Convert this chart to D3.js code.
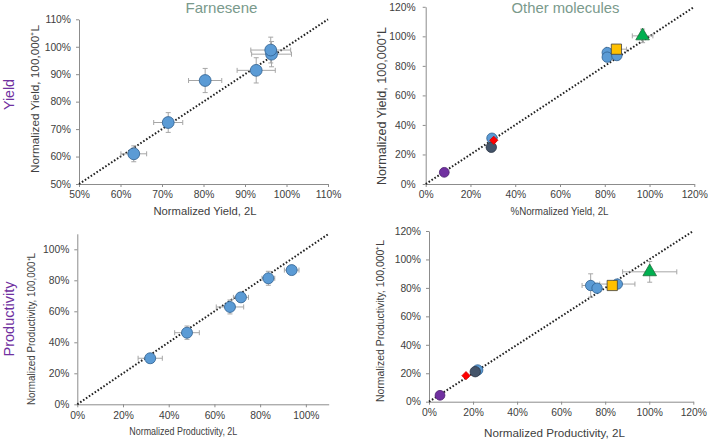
<!DOCTYPE html>
<html><head><meta charset="utf-8">
<script src="https://cdn.jsdelivr.net/npm/d3@7"></script>
<style>
body{margin:0;background:#fff;}
svg{display:block;font-family:"Liberation Sans",Arial,sans-serif;}
.axis path,.axis line{stroke:#8c8c8c;stroke-width:1;}
.axis text{fill:#404040;font-size:10.3px;font-family:"Liberation Sans",Arial,sans-serif;}
</style></head>
<body>
<svg id="c" width="708" height="442"></svg>
<script>
// ---------- Data ----------
const panelTitles = ["Farnesene", "Other molecules"];
const rowTitles = ["Yield", "Productivity"];

// Farnesene – yield
const farYield2L      = [63.2, 71.5, 80.4, 92.7, 96.4, 96.2];
const farYield100k    = [61.0, 72.4, 87.7, 91.4, 97.3, 98.8];
const farYield2LErr   = [3.1, 3.5, 4.0, 4.6, 4.8, 4.8];
const farYield100kErr = [2.9, 3.6, 4.4, 4.6, 4.6, 4.7];

// Farnesene – productivity
const farProd2L      = [31.9, 48.0, 66.8, 71.6, 83.6, 93.8];
const farProd100k    = [29.7, 46.2, 62.8, 69.0, 81.3, 86.6];
const farProd2LErr   = [5.3, 5.4, 6.0, 3.3, 2.8, 3.2];
const farProd100kErr = [2.0, 4.3, 4.5, 3.0, 4.5, 2.0];

// Other molecules (one entry per point)
const otherMolecule = ["Molecule 1","Molecule 1","Molecule 1","Molecule 1","Molecule 2","Molecule 3","Molecule 4","Molecule 5","Molecule 6"];
const otherYield2L      = [81.1, 81.1, 85.4, 29.6, 29.3, 8.3, 30.4, 85.2, 96.9];
const otherYield100k    = [89.0, 85.9, 87.0, 31.0, 24.9, 7.9, 29.6, 91.3, 100.3];
const otherYield2LErr   = [0, 0, 0, 0, 0, 0, 0, 4.5, 4.6];
const otherYield100kErr = [0, 0, 0, 0, 0, 0, 0, 0, 4.6];
const otherProd2L      = [73.4, 76.3, 85.5, 22.1, 21.0, 5.0, 16.8, 83.2, 100.2];
const otherProd100k    = [81.7, 79.8, 82.7, 22.3, 21.1, 4.5, 18.3, 81.7, 91.3];
const otherProd2LErr   = [3.9, 0, 8.0, 0, 0, 0, 0, 0, 12.3];
const otherProd100kErr = [8.2, 0, 0, 0, 0, 0, 0, 0, 7.3];

// Tick values
const farYieldTicks = [50, 60, 70, 80, 90, 100, 110];
const farProdTicks  = [0, 20, 40, 60, 80, 100];
const otherTicks    = [0, 20, 40, 60, 80, 100, 120];

// Axis titles
const xTitles = ["Normalized Yield, 2L", "%Normalized Yield, 2L", "Normalized  Productivity, 2L", "Normalized  Productivity, 2L"];
const yTitles = ["Normalized Yield, 100,000\u207AL", "Normalized Yield, 100,000\u207AL", "Normalized Productivity, 100,000\u207AL", "Normalized  Productivity, 100,000\u207AL"];

// ---------- Styles ----------
const diamond = {draw(ctx, size) { const r = Math.sqrt(size) / 2; ctx.moveTo(0, -r * 1.3); ctx.lineTo(r * 1.3, 0); ctx.lineTo(0, r * 1.3); ctx.lineTo(-r * 1.3, 0); ctx.closePath(); }};
const molStyle = {
  "Molecule 1": {shape: d3.symbolCircle,   fill: "#5B9BD5", stroke: "#2F5F8F", size: 85},
  "Molecule 2": {shape: d3.symbolCircle,   fill: "#44546A", stroke: "#2A3442", size: 85},
  "Molecule 3": {shape: d3.symbolCircle,   fill: "#7030A0", stroke: "#4B1F6E", size: 75},
  "Molecule 4": {shape: diamond,           fill: "#FF0000", stroke: "#D00000", size: 40},
  "Molecule 5": {shape: d3.symbolSquare,   fill: "#FFC000", stroke: "#404040", size: 105},
  "Molecule 6": {shape: d3.symbolTriangle, fill: "#00B050", stroke: "#1F6B3A", size: 80}
};

const svg = d3.select("#c");
const fmt = d => d + "%";

function panel(cfg) {
  const x = d3.scaleLinear().domain(cfg.xd).range(cfg.xr);
  const y = d3.scaleLinear().domain(cfg.yd).range(cfg.yr);
  const g = svg.append("g");

  g.append("g").attr("class", "axis").attr("transform", `translate(0,${cfg.yr[0]})`)
    .call(d3.axisBottom(x).tickValues(cfg.ticks).tickFormat(fmt).tickSize(3).tickSizeOuter(0).tickPadding(4));
  g.append("g").attr("class", "axis").attr("transform", `translate(${cfg.xr[0]},0)`)
    .call(d3.axisLeft(y).tickValues(cfg.yticks || cfg.ticks).tickFormat(fmt).tickSize(3).tickSizeOuter(0).tickPadding(cfg.ypad));

  // identity line
  const lo = Math.max(cfg.xd[0], cfg.yd[0]), hi = Math.min(cfg.xd[1], cfg.yd[1]);
  g.append("line").attr("x1", x(lo)).attr("y1", y(lo)).attr("x2", x(hi)).attr("y2", y(hi))
    .attr("stroke", "#222").attr("stroke-width", 2).attr("stroke-dasharray", "1.6,1.9");

  const pts = cfg.xs.map((v, i) => ({x: v, y: cfg.ys[i], ex: cfg.exs[i], ey: cfg.eys[i], m: cfg.mol ? cfg.mol[i] : null}));
  const eb = g.append("g").attr("stroke", "#a6a6a6").attr("stroke-width", 1).attr("fill", "none");
  const cap = 2.5;
  pts.forEach(p => {
    if (p.ex > 0) {
      eb.append("line").attr("x1", x(p.x - p.ex)).attr("x2", x(p.x + p.ex)).attr("y1", y(p.y)).attr("y2", y(p.y));
      eb.append("line").attr("x1", x(p.x - p.ex)).attr("x2", x(p.x - p.ex)).attr("y1", y(p.y) - cap).attr("y2", y(p.y) + cap);
      eb.append("line").attr("x1", x(p.x + p.ex)).attr("x2", x(p.x + p.ex)).attr("y1", y(p.y) - cap).attr("y2", y(p.y) + cap);
    }
    if (p.ey > 0) {
      eb.append("line").attr("y1", y(p.y - p.ey)).attr("y2", y(p.y + p.ey)).attr("x1", x(p.x)).attr("x2", x(p.x));
      eb.append("line").attr("y1", y(p.y - p.ey)).attr("y2", y(p.y - p.ey)).attr("x1", x(p.x) - cap).attr("x2", x(p.x) + cap);
      eb.append("line").attr("y1", y(p.y + p.ey)).attr("y2", y(p.y + p.ey)).attr("x1", x(p.x) - cap).attr("x2", x(p.x) + cap);
    }
  });

  pts.forEach(p => {
    const s = p.m ? molStyle[p.m] : {shape: d3.symbolCircle, fill: "#5B9BD5", stroke: "#2F5F8F", size: cfg.size};
    g.append("path").attr("d", d3.symbol().type(s.shape).size(s.size)())
      .attr("transform", `translate(${x(p.x)},${y(p.y)})`)
      .attr("fill", s.fill).attr("stroke", s.stroke).attr("stroke-width", 0.8);
  });

  // axis titles
  g.append("text").attr("x", cfg.xl[0]).attr("y", cfg.xl[1]).attr("text-anchor", "middle")
    .attr("font-size", cfg.xl[3]).attr("fill", "#404040")
    .attr("textLength", cfg.xl[2]).attr("lengthAdjust", "spacingAndGlyphs").text(cfg.xt);
  g.append("text").attr("transform", `translate(${cfg.yl[0]},${cfg.yl[1]}) rotate(-90)`).attr("text-anchor", "middle")
    .attr("font-size", cfg.yl[3]).attr("fill", "#404040")
    .attr("textLength", cfg.yl[2]).attr("lengthAdjust", "spacingAndGlyphs").text(cfg.yt);
}

panel({xd:[50,110], yd:[50,110], xr:[79,328], yr:[184,19.3], ticks:farYieldTicks, ypad:5, size:110,
  xs:farYield2L, ys:farYield100k, exs:farYield2LErr, eys:farYield100kErr,
  xt:xTitles[0], yt:yTitles[0], xl:[205,214.5,103,11.5], yl:[38.5,99,148,11.5]});
panel({xd:[0,120], yd:[0,120], xr:[425.7,694.3], yr:[184,6.8], ticks:otherTicks, ypad:7,
  xs:otherYield2L, ys:otherYield100k, exs:otherYield2LErr, eys:otherYield100kErr, mol:otherMolecule,
  xt:xTitles[1], yt:yTitles[1], xl:[559.5,214.5,98,11.5], yl:[385.5,106,158,12]});
panel({xd:[0,110], yd:[0,110], xr:[77.3,328.7], yr:[404.3,233.8], ticks:farProdTicks, ypad:5, size:95,
  xs:farProd2L, ys:farProd100k, exs:farProd2LErr, eys:farProd100kErr,
  xt:xTitles[2], yt:yTitles[2], xl:[183.3,434.5,108,11], yl:[34.5,329,152,10]});
panel({xd:[0,120], yd:[0,120], xr:[429,693.3], yr:[401.7,231], ticks:otherTicks, ypad:5,
  xs:otherProd2L, ys:otherProd100k, exs:otherProd2LErr, eys:otherProd100kErr, mol:otherMolecule,
  xt:xTitles[3], yt:yTitles[3], xl:[554.5,436.5,141,11.5], yl:[384,321,162,11]});

// panel titles
svg.append("text").attr("x", 221.5).attr("y", 13).attr("text-anchor", "middle").attr("font-size", 14.5)
  .attr("fill", "#7A9A8C").attr("textLength", 72).attr("lengthAdjust", "spacingAndGlyphs").text(panelTitles[0]);
svg.append("text").attr("x", 565.5).attr("y", 13).attr("text-anchor", "middle").attr("font-size", 14.5)
  .attr("fill", "#7A9A8C").attr("textLength", 108).attr("lengthAdjust", "spacingAndGlyphs").text(panelTitles[1]);
// row titles
svg.append("text").attr("transform", "translate(14,94.5) rotate(-90)").attr("text-anchor", "middle")
  .attr("font-size", 15).attr("fill", "#7030A0").attr("textLength", 31).attr("lengthAdjust", "spacingAndGlyphs").text(rowTitles[0]);
svg.append("text").attr("transform", "translate(13.5,319) rotate(-90)").attr("text-anchor", "middle")
  .attr("font-size", 15).attr("fill", "#7030A0").attr("textLength", 75).attr("lengthAdjust", "spacingAndGlyphs").text(rowTitles[1]);
</script>
</body></html>
